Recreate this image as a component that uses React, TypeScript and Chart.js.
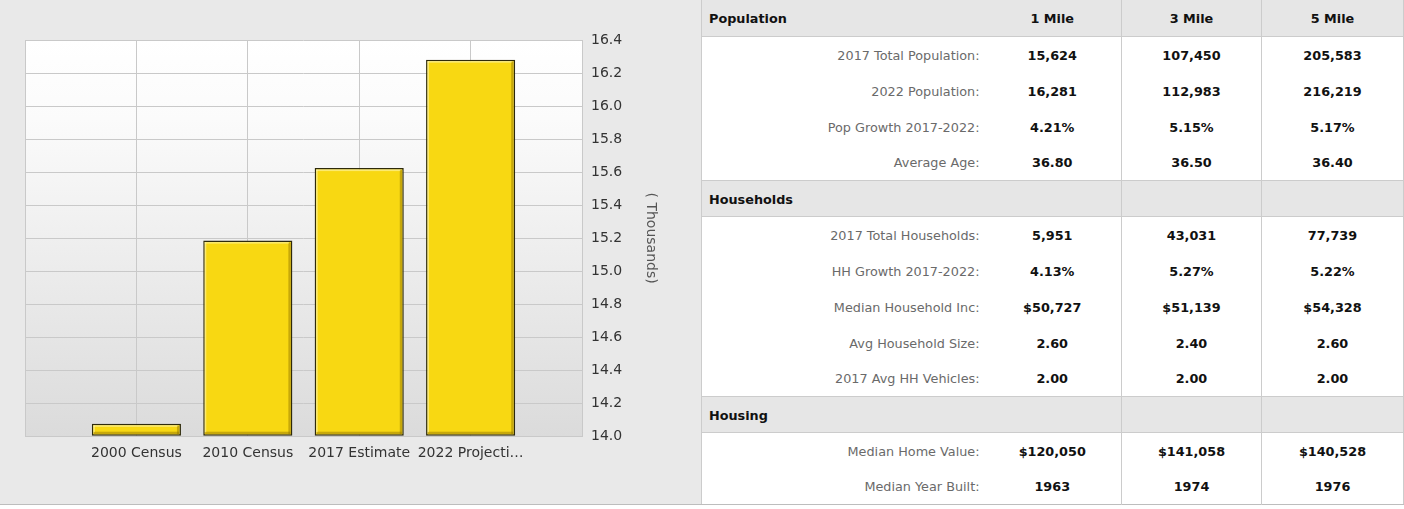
import React, { useEffect, useRef } from 'react';
import { Chart, registerables } from 'chart.js';

Chart.register(...registerables);

// ---- Chart data ----
const categories = ['2000 Census', '2010 Census', '2017 Estimate', '2022 Projecti…'];
const populationThousands = [14.075, 15.185, 15.624, 16.281];
const yMin = 14.0;
const yMax = 16.4;
const yStep = 0.2;
const yTitle = '( Thousands)';

// ---- Table data ----
const distanceHeaders = ['1 Mile', '3 Mile', '5 Mile'];
const sectionTitles = ['Population', 'Households', 'Housing'];
const populationLabels = ['2017 Total Population:', '2022 Population:', 'Pop Growth 2017-2022:', 'Average Age:'];
const populationValues = [
  ['15,624', '107,450', '205,583'],
  ['16,281', '112,983', '216,219'],
  ['4.21%', '5.15%', '5.17%'],
  ['36.80', '36.50', '36.40'],
];
const householdLabels = ['2017 Total Households:', 'HH Growth 2017-2022:', 'Median Household Inc:', 'Avg Household Size:', '2017 Avg HH Vehicles:'];
const householdValues = [
  ['5,951', '43,031', '77,739'],
  ['4.13%', '5.27%', '5.22%'],
  ['$50,727', '$51,139', '$54,328'],
  ['2.60', '2.40', '2.60'],
  ['2.00', '2.00', '2.00'],
];
const housingLabels = ['Median Home Value:', 'Median Year Built:'];
const housingValues = [
  ['$120,050', '$141,058', '$140,528'],
  ['1963', '1974', '1976'],
];

const FONT = '"DejaVu Sans", Verdana, sans-serif';
const GRID = '#c9c9c9';

const plotBackground = {
  id: 'plotBackground',
  beforeDraw(chart: any) {
    const { ctx, chartArea } = chart;
    if (!chartArea) return;
    const g = ctx.createLinearGradient(0, chartArea.top, 0, chartArea.bottom);
    g.addColorStop(0, '#ffffff');
    g.addColorStop(0.2, '#fbfbfb');
    g.addColorStop(1, '#dbdbdb');
    ctx.save();
    ctx.fillStyle = g;
    ctx.fillRect(chartArea.left, chartArea.top, chartArea.right - chartArea.left, chartArea.bottom - chartArea.top);
    ctx.restore();
  },
};

const barBevel = {
  id: 'barBevel',
  afterDatasetsDraw(chart: any) {
    const ctx = chart.ctx;
    const meta = chart.getDatasetMeta(0);
    const values = chart.data.datasets[0].data;
    const bottom = chart.chartArea.bottom;
    meta.data.forEach((el: any, i: number) => {
      if (values[i] == null) return;
      const p = el.getProps(['x', 'y', 'base', 'width'], true);
      const x = p.x, y = p.y, width = p.width;
      if (y == null || isNaN(y) || isNaN(x)) return;
      const base = Math.min(p.base, bottom);
      const l = x - width / 2;
      const r = x + width / 2;
      const h = base - y;
      ctx.save();
      ctx.fillStyle = 'rgba(140,110,0,0.45)';
      if (h < 6) {
        ctx.fillRect(l + 2, base - 3.5, width - 4, 2);
        ctx.restore();
        return;
      }
      ctx.fillRect(r - 4, y + 2, 2.5, h - 3.5);
      ctx.fillRect(l + 2, base - 4, width - 4, 2.5);
      ctx.fillStyle = 'rgba(255,250,190,0.55)';
      ctx.fillRect(l + 1.5, y + 1.5, width - 5, 1.5);
      ctx.fillRect(l + 1.5, y + 1.5, 1.5, h - 5);
      ctx.restore();
    });
  },
};

function BarChart() {
  const ref = useRef<HTMLCanvasElement | null>(null);
  useEffect(() => {
    if (!ref.current) return;
    const labels = ['', ...categories, ''];
    const data = [null, ...populationThousands, null];
    const chart = new Chart(ref.current, {
      type: 'bar',
      data: {
        labels,
        datasets: [
          {
            data,
            base: yMin,
            backgroundColor: '#f8d812',
            borderColor: '#2e2a0a',
            borderWidth: 1.5,
            borderSkipped: false,
            barPercentage: 1,
            categoryPercentage: 0.8,
          },
        ],
      },
      options: {
        responsive: false,
        animation: false,
        layout: { padding: { left: 25, top: 40, right: 27, bottom: 33 } },
        plugins: { legend: { display: false }, tooltip: { enabled: false } },
        scales: {
          x: {
            offset: false,
            grid: { color: GRID, drawTicks: false, offset: false },
            border: { color: GRID },
            ticks: {
              padding: 9,
              color: '#333333',
              font: { family: FONT, size: 14 },
              maxRotation: 0,
              autoSkip: false,
            },
          },
          y: {
            position: 'right',
            min: yMin,
            max: yMax,
            grid: { color: GRID, drawTicks: false },
            border: { color: GRID },
            ticks: {
              stepSize: yStep,
              padding: 9,
              color: '#333333',
              font: { family: FONT, size: 14 },
              callback: (v: any) => Number(v).toFixed(1),
            },
            title: {
              display: true,
              text: yTitle,
              color: '#555555',
              font: { family: FONT, size: 14 },
              padding: { top: 15, bottom: 11 },
            },
          },
        },
      },
      plugins: [plotBackground, barBevel],
    });
    return () => chart.destroy();
  }, []);
  return <canvas ref={ref} width={701} height={504} style={{ width: 701, height: 504, display: 'block' }} />;
}

function DataTable() {
  const sections = [
    { title: sectionTitles[0], labels: populationLabels, values: populationValues, heads: distanceHeaders },
    { title: sectionTitles[1], labels: householdLabels, values: householdValues, heads: ['', '', ''] },
    { title: sectionTitles[2], labels: housingLabels, values: housingValues, heads: ['', '', ''] },
  ];
  const border = '1px solid #cccccc';
  const rowH = 36;
  const base: React.CSSProperties = { height: rowH, padding: 0, boxSizing: 'border-box', fontFamily: FONT, fontSize: 12.8, paddingTop: 2 };
  const rows: any[] = [];
  sections.forEach((s, si) => {
    rows.push(
      <tr key={'h' + si} style={{ height: rowH, background: '#e6e6e6' }}>
        <td style={{ ...base, borderTop: si ? border : 'none', borderBottom: border, fontWeight: 'bold', color: '#111', textAlign: 'left', paddingLeft: 7 }}>{s.title}</td>
        {s.heads.map((h, j) => (
          <td key={j} style={{ ...base, borderTop: si ? border : 'none', borderBottom: border, borderLeft: j ? border : 'none', fontWeight: 'bold', color: '#111', textAlign: 'center' }}>{h}</td>
        ))}
      </tr>
    );
    s.labels.forEach((lab, ri) => {
      rows.push(
        <tr key={'r' + si + '-' + ri} style={{ height: rowH, background: '#ffffff' }}>
          <td style={{ ...base, color: '#6a6a6a', textAlign: 'right', paddingRight: 4 }}>{lab}</td>
          {s.values[ri].map((v, j) => (
            <td key={j} style={{ ...base, borderLeft: j ? border : 'none', fontWeight: 'bold', color: '#111', textAlign: 'center' }}>{v}</td>
          ))}
        </tr>
      );
    });
  });
  return (
    <table
      style={{
        position: 'absolute',
        left: 701,
        top: 0,
        width: 702,
        borderCollapse: 'collapse',
        tableLayout: 'fixed',
        borderLeft: border,
        borderRight: border,
        borderBottom: '1px solid #bdbdbd',
      }}
    >
      <colgroup>
        <col style={{ width: 282 }} />
        <col style={{ width: 138 }} />
        <col style={{ width: 140 }} />
        <col style={{ width: 142 }} />
      </colgroup>
      <tbody>{rows}</tbody>
    </table>
  );
}

export default function App() {
  return (
    <div style={{ position: 'absolute', left: 0, top: 0, width: 1404, height: 509, background: '#ffffff', overflow: 'hidden' }}>
      <div style={{ position: 'absolute', left: 0, top: 0, width: 701, height: 504, background: '#e9e9e9', borderBottom: '1px solid #bdbdbd' }}>
        <BarChart />
      </div>
      <DataTable />
    </div>
  );
}
